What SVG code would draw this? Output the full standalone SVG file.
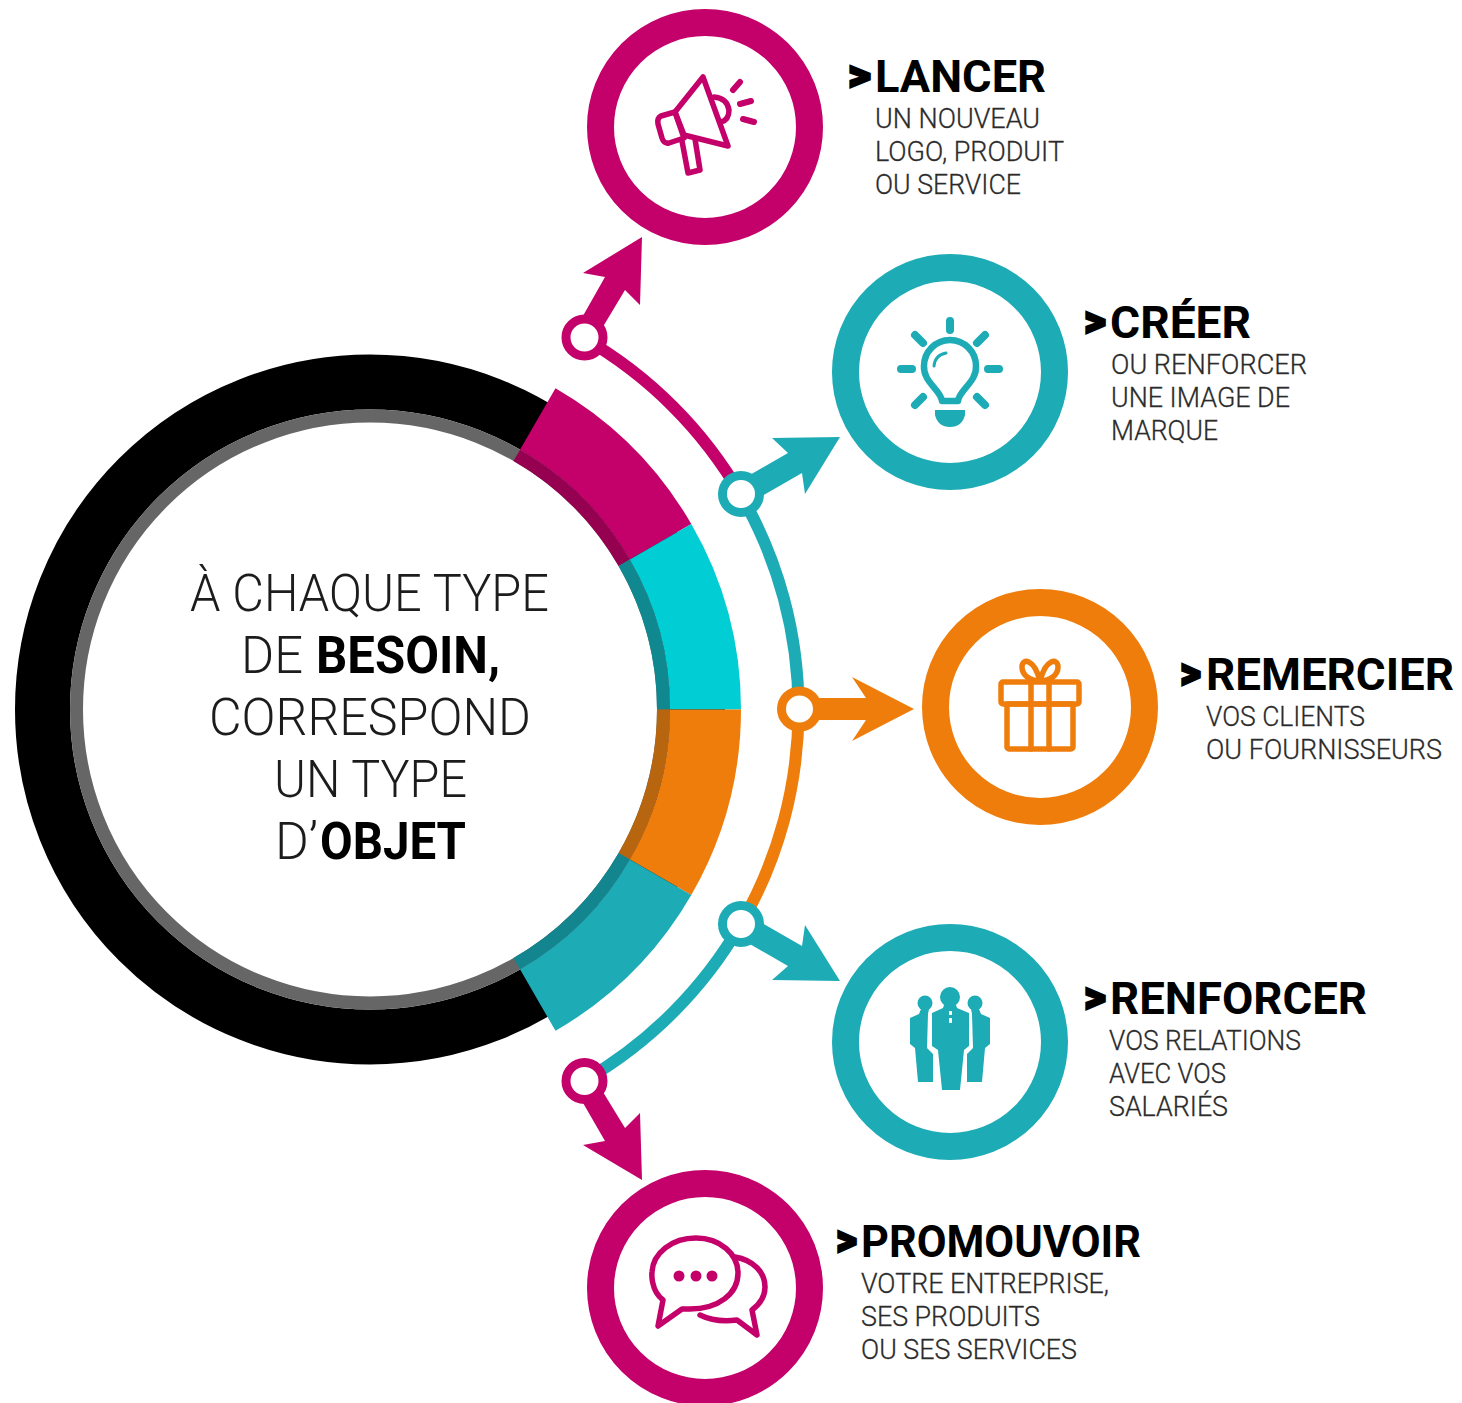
<svg xmlns="http://www.w3.org/2000/svg" width="1462" height="1403" viewBox="0 0 1462 1403">
<style>
text{font-family:"Roboto","Liberation Sans",sans-serif}
.h{font-size:44px;font-weight:700;fill:#000}
.c{font-weight:900;stroke:#000;stroke-width:2.200px}
.s{font-size:28px;font-weight:300;fill:#2b2b2b;stroke:#2b2b2b;stroke-width:.3px}
.m{font-size:52px;font-weight:300;fill:#1c1c1c}
.b{font-weight:700;fill:#000}
.ring{fill:#fff;stroke-width:27px}
.seg{fill:none;stroke-width:71px}
.in{fill:none;stroke-width:13px}
.arc{fill:none;stroke-width:12px}
.dot{fill:#fff;stroke-width:9px}
.ic{fill:none;stroke-width:5.500px;stroke-linejoin:round;stroke-linecap:round}
.mg{stroke:#c4006a}.tl{stroke:#1dabb6}.or{stroke:#ef7d0c}
.fm{fill:#c4006a}.ft{fill:#1dabb6}.fo{fill:#ef7d0c}
</style>
<rect width="1462" height="1403" fill="#fff"/>
<g id="hub">
<circle cx="370" cy="709.5" r="327.5" fill="none" stroke="#000" stroke-width="55"/>
<circle cx="370" cy="709.5" r="293.5" fill="#fff" stroke="#666" stroke-width="13"/>
<path class="seg" stroke="#c4006a" d="M537.75 418.95A335.5 335.5 0 0 1 660.55 541.75"/>
<path class="seg" stroke="#00cdd4" d="M660.55 541.75A335.5 335.5 0 0 1 705.5 709.5"/>
<path class="seg" stroke="#ef7d0c" d="M705.5 709.5A335.5 335.5 0 0 1 660.55 877.25"/>
<path class="seg" stroke="#1dabb6" d="M660.55 877.25A335.5 335.5 0 0 1 537.75 1000.05"/>
<path class="in" stroke="#960050" d="M516.75 455.32A293.5 293.5 0 0 1 624.18 562.75"/>
<path class="in" stroke="#10888f" d="M624.18 562.75A293.5 293.5 0 0 1 663.5 709.5"/>
<path class="in" stroke="#b8650f" d="M663.5 709.5A293.5 293.5 0 0 1 624.18 856.25"/>
<path class="in" stroke="#13858e" d="M624.18 856.25A293.5 293.5 0 0 1 516.75 963.68"/>
<text class="m" y="611"><tspan x="190" textLength="359" lengthAdjust="spacingAndGlyphs">À CHAQUE TYPE</tspan></text>
<text class="m" y="673"><tspan x="241" textLength="62" lengthAdjust="spacingAndGlyphs">DE</tspan> <tspan class="b" x="316" textLength="184" lengthAdjust="spacingAndGlyphs">BESOIN,</tspan></text>
<text class="m" y="735"><tspan x="209" textLength="322" lengthAdjust="spacingAndGlyphs">CORRESPOND</tspan></text>
<text class="m" y="797"><tspan x="274" textLength="193" lengthAdjust="spacingAndGlyphs">UN TYPE</tspan></text>
<text class="m" y="859"><tspan x="275" textLength="43" lengthAdjust="spacingAndGlyphs">D’</tspan><tspan class="b" x="320" textLength="146" lengthAdjust="spacingAndGlyphs">OBJET</tspan></text>
</g>
<g id="connectors">
<path class="arc mg" d="M584.25 338.4A428.5 428.5 0 0 1 741 495.2"/>
<path class="arc tl" d="M741 495.2A428.5 428.5 0 0 1 798.5 709.5"/>
<path class="arc or" d="M798.5 709.5A428.5 428.5 0 0 1 741 923.8"/>
<path class="arc tl" d="M741 923.8A428.5 428.5 0 0 1 584.25 1080.6"/>
<path class="fm" d="M642 237L583 273L605 277L575 330L595 340L625 290L640 305Z"/>
<path class="ft" d="M840 437L772 438L788 453L736 483L750 503L802 473L805 494Z"/>
<path class="fo" d="M914 709L852 677L866 698H798V720H866L852 741Z"/>
<path class="ft" d="M840 981L772 980L788 966L736 936L750 916L802 946L805 925Z"/>
<path class="fm" d="M642 1180L583 1145L605 1141L575 1089L595 1079L625 1128L640 1113Z"/>
<circle class="dot mg" cx="584.5" cy="337.500" r="18.500"/>
<circle class="dot tl" cx="741" cy="494" r="18.500"/>
<circle class="dot or" cx="799.500" cy="709" r="18"/>
<circle class="dot tl" cx="741" cy="924" r="18.500"/>
<circle class="dot mg" cx="584.5" cy="1081" r="18.500"/>
</g>
<g id="node-lancer">
<circle class="ring mg" cx="705" cy="127" r="104.500"/>
<g class="ic mg">
<path d="M703 77L728 146L684 135L675 112Z"/>
<path d="M661 116L675 112L684 138L669 143Q664 144 662 138L658 124Q657 118 661 116Z"/>
<path d="M682 141L688 173L700 170L695 139"/>
<path d="M714 97Q727 98 729 110Q729 120 721 122"/>
<path d="M733 90L740 82M740 104L751 101M743 119L754 122" stroke-width="6"/>
</g>
<text class="h" y="92"><tspan class="c" x="848" y="90" textLength="23" lengthAdjust="spacingAndGlyphs">&gt;</tspan><tspan x="875" y="92" textLength="171" lengthAdjust="spacingAndGlyphs">LANCER</tspan></text>
<text class="s" x="875" y="128" textLength="165" lengthAdjust="spacingAndGlyphs">UN NOUVEAU</text>
<text class="s" x="875" y="161" textLength="189" lengthAdjust="spacingAndGlyphs">LOGO, PRODUIT</text>
<text class="s" x="875" y="194" textLength="146" lengthAdjust="spacingAndGlyphs">OU SERVICE</text>
</g>
<g id="node-creer">
<circle class="ring tl" cx="950" cy="372" r="104.500"/>
<g class="ic tl">
<path d="M942 401C941 390 923 382 924 366A26 26 0 0 1 976 366C977 382 959 390 958 401Z" stroke-width="6.500"/>
<path d="M934 366Q935 355 946 353" stroke-width="3"/>
<path d="M950 321V330M901 369H912M988 369H999M915 335L923 343M985 335L977 343M915 405L923 397M985 405L977 397" stroke-width="8"/>
</g>
<path class="ft" d="M935 410H965V415Q962 427 950 427Q938 427 935 415Z"/>
<text class="h" y="338"><tspan class="c" x="1084" y="336" textLength="22" lengthAdjust="spacingAndGlyphs">&gt;</tspan><tspan x="1110" y="338" textLength="141" lengthAdjust="spacingAndGlyphs">CRÉER</tspan></text>
<text class="s" x="1111" y="374" textLength="196" lengthAdjust="spacingAndGlyphs">OU RENFORCER</text>
<text class="s" x="1111" y="407" textLength="179" lengthAdjust="spacingAndGlyphs">UNE IMAGE DE</text>
<text class="s" x="1111" y="440" textLength="107" lengthAdjust="spacingAndGlyphs">MARQUE</text>
</g>
<g id="node-remercier">
<circle class="ring or" cx="1040" cy="707" r="104.500"/>
<g class="ic or">
<rect x="1001" y="682" width="78" height="22" rx="2"/>
<rect x="1007" y="704" width="66" height="45" rx="2"/>
<path d="M1031 682V749M1049 682V749"/>
<path d="M1040 681C1030 681 1022 675 1022 667C1022 658 1034 658 1040 681C1046 658 1058 658 1058 667C1058 675 1050 681 1040 681"/>
</g>
<text class="h" y="690"><tspan class="c" x="1180" y="688" textLength="21" lengthAdjust="spacingAndGlyphs">&gt;</tspan><tspan x="1206" y="690" textLength="248" lengthAdjust="spacingAndGlyphs">REMERCIER</tspan></text>
<text class="s" x="1206" y="726" textLength="159" lengthAdjust="spacingAndGlyphs">VOS CLIENTS</text>
<text class="s" x="1206" y="759" textLength="236" lengthAdjust="spacingAndGlyphs">OU FOURNISSEURS</text>
</g>
<g id="node-renforcer">
<circle class="ring tl" cx="950" cy="1042" r="104.500"/>
<g class="ft">
<circle cx="950" cy="997" r="10"/>
<path d="M944 1005H956L957 1008L969 1013V1046L964 1050L960 1090H942L938 1050L932 1046V1013L943 1008Z"/>
<circle cx="925" cy="1003" r="7.500"/>
<circle cx="975" cy="1003" r="7.500"/>
<path d="M921 1009H929L928 1014L927 1048L933 1054V1082H918L915 1048L910 1044V1018L919 1014Z"/>
<path d="M979 1009H971L972 1014L973 1048L967 1054V1082H982L985 1048L990 1044V1018L981 1014Z"/>
</g>
<path d="M949 1011h3v4h-3zM949 1018h3v5h-3z" fill="#fff"/>
<text class="h" y="1014"><tspan class="c" x="1084" y="1012" textLength="22" lengthAdjust="spacingAndGlyphs">&gt;</tspan><tspan x="1110" y="1014" textLength="257" lengthAdjust="spacingAndGlyphs">RENFORCER</tspan></text>
<text class="s" x="1109" y="1050" textLength="192" lengthAdjust="spacingAndGlyphs">VOS RELATIONS</text>
<text class="s" x="1109" y="1083" textLength="117" lengthAdjust="spacingAndGlyphs">AVEC VOS</text>
<text class="s" x="1109" y="1116" textLength="119" lengthAdjust="spacingAndGlyphs">SALARIÉS</text>
</g>
<g id="node-promouvoir">
<circle class="ring mg" cx="705" cy="1288" r="104.500"/>
<g class="ic mg">
<path d="M663 1300C650 1290 652 1272 652 1272C653 1253 672 1238 696 1238C720 1238 738 1254 738 1273C738 1294 718 1309 690 1309L682 1309L658 1326Z"/>
<path d="M735 1257C753 1260 765 1272 765 1287C765 1297 760 1304 752 1310L757 1335L737 1320C722 1322 710 1320 700 1315"/>
</g>
<circle class="fm" cx="679" cy="1276" r="5.500"/>
<circle class="fm" cx="696" cy="1276" r="5.500"/>
<circle class="fm" cx="712" cy="1276" r="5.500"/>
<text class="h" y="1257"><tspan class="c" x="836" y="1255" textLength="21" lengthAdjust="spacingAndGlyphs">&gt;</tspan><tspan x="861" y="1257" textLength="280" lengthAdjust="spacingAndGlyphs">PROMOUVOIR</tspan></text>
<text class="s" x="861" y="1293" textLength="248" lengthAdjust="spacingAndGlyphs">VOTRE ENTREPRISE,</text>
<text class="s" x="861" y="1326" textLength="179" lengthAdjust="spacingAndGlyphs">SES PRODUITS</text>
<text class="s" x="861" y="1359" textLength="216" lengthAdjust="spacingAndGlyphs">OU SES SERVICES</text>
</g>
</svg>
